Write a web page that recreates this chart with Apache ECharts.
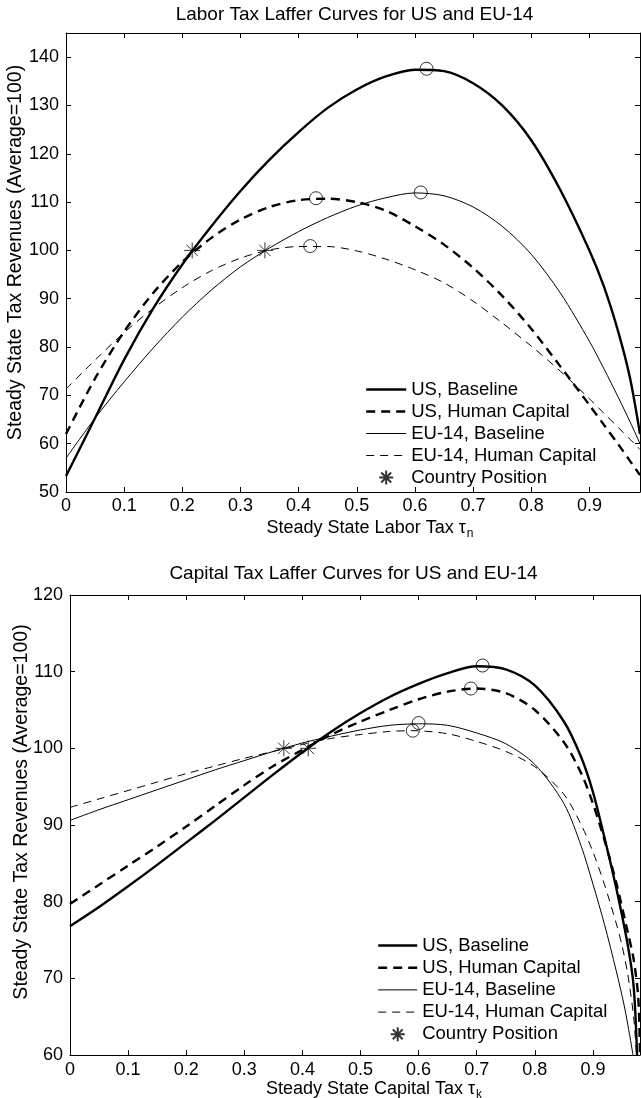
<!DOCTYPE html>
<html>
<head>
<meta charset="utf-8">
<script src="https://cdn.jsdelivr.net/npm/echarts@6/dist/echarts.min.js"></script>
<style>
html,body{margin:0;padding:0;background:#fff;}
#labor,#capital{width:641px;height:549px;}
</style>
</head>
<body>
<div id="labor"></div>
<div id="capital"></div>
<script>
// ---------- data ----------
const legendNames = ['US, Baseline', 'US, Human Capital', 'EU-14, Baseline', 'EU-14, Human Capital', 'Country Position'];

// Labor tax Laffer curves
const laborTax     = [0, 0.05, 0.1, 0.15, 0.2, 0.25, 0.3, 0.35, 0.4, 0.45, 0.5, 0.55, 0.6, 0.65, 0.7, 0.75, 0.8, 0.85, 0.9, 0.925, 0.95, 0.97, 0.987];
const laborUSBase  = [53.3, 65.3, 77.4, 88, 97.1, 105, 112.3, 118.8, 124.5, 129.5, 133.3, 136, 137.4, 137.1, 134.6, 130, 122.8, 112.5, 100, 92.5, 83, 73.5, 62];
const laborUSHuman = [62, 73.5, 83.2, 91.2, 97.6, 102.6, 106.4, 109, 110.4, 110.7, 110, 108.2, 105, 101.2, 96.4, 90.6, 83.8, 76, 68, 63.9, 59.8, 56.4, 53.5];
const laborEUBase  = [57, 65.3, 72.8, 79.8, 86.2, 91.8, 96.6, 100.5, 103.9, 106.8, 109.2, 110.9, 111.9, 111.3, 109, 105, 99.2, 91.2, 81.2, 75.5, 69.5, 64.5, 60];
const laborEUHuman = [71.3, 77.3, 83, 88, 92.3, 95.8, 98.4, 100.1, 100.8, 100.8, 99.9, 98.2, 96, 93.3, 89.5, 85, 80.2, 75, 69.3, 66.3, 63.3, 60.9, 58.8];
const laborPeakTax = [0.62, 0.43, 0.61, 0.42];
const laborPeakRev = [137.6, 110.8, 112, 100.9];
const laborPosTax  = [0.217, 0.342];
const laborPosRev  = [100, 100];

// Capital tax Laffer curves
const capUSBaseTax  = [0, 0.05, 0.1, 0.15, 0.2, 0.25, 0.3, 0.35, 0.4, 0.45, 0.5, 0.55, 0.6, 0.65, 0.7, 0.75, 0.8, 0.85, 0.88, 0.9, 0.92, 0.94, 0.96, 0.97, 0.976];
const capUSBaseRev  = [76.8, 79.3, 82, 84.8, 87.7, 90.6, 93.6, 96.6, 99.5, 102.2, 104.6, 106.7, 108.4, 109.8, 110.7, 110.3, 108.2, 103.5, 98.8, 94.3, 88.3, 81.8, 74.3, 69, 60];
const capUSHumanTax = [0, 0.05, 0.1, 0.15, 0.2, 0.25, 0.3, 0.35, 0.4, 0.45, 0.5, 0.55, 0.6, 0.65, 0.7, 0.75, 0.8, 0.85, 0.88, 0.9, 0.92, 0.94, 0.96, 0.97, 0.978, 0.981];
const capUSHumanRev = [79.7, 82.2, 84.7, 87.2, 89.8, 92.5, 95.2, 97.7, 99.8, 101.8, 103.5, 105, 106.4, 107.4, 107.8, 107.2, 105, 100.8, 96.7, 92.8, 88, 82.5, 76, 72.5, 67.5, 60];
const capEUBaseTax  = [0, 0.05, 0.1, 0.15, 0.2, 0.25, 0.3, 0.35, 0.4, 0.45, 0.5, 0.55, 0.6, 0.65, 0.7, 0.75, 0.8, 0.85, 0.88, 0.9, 0.92, 0.94, 0.955, 0.969];
const capEUBaseRev  = [90.6, 92.0, 93.3, 94.6, 95.9, 97.2, 98.4, 99.6, 100.7, 101.6, 102.4, 103, 103.2, 103, 102, 100.6, 97.9, 92.8, 87.2, 82.3, 77, 71, 66, 60];
const capEUHumanTax = [0, 0.05, 0.1, 0.15, 0.2, 0.25, 0.3, 0.35, 0.4, 0.45, 0.5, 0.55, 0.59, 0.65, 0.7, 0.75, 0.8, 0.85, 0.88, 0.9, 0.92, 0.94, 0.95, 0.96, 0.97, 0.975];
const capEUHumanRev = [92.3, 93.4, 94.5, 95.6, 96.7, 97.7, 98.7, 99.6, 100.5, 101.3, 101.8, 102.2, 102.3, 101.9, 100.9, 99.6, 97.6, 94, 90, 86.5, 82.2, 77.2, 74.3, 70.5, 65, 60];
const capPeakTax = [0.71, 0.69, 0.6, 0.59];
const capPeakRev = [110.8, 107.8, 103.3, 102.3];
const capPosTax  = [0.368, 0.41];
const capPosRev  = [100, 100];

// ---------- drawing ----------
const FONT = "'Liberation Sans', Arial, Helvetica, sans-serif";
const STAR = 'path://M10,0L10,20M0,10L20,10M2.93,2.93L17.07,17.07M2.93,17.07L17.07,2.93';
const THICK = 2.4, THIN = 1, THICK_DASH = [9, 6], THIN_DASH = [8, 6];

function zip(xs, ys) { return xs.map((x, i) => [x, ys[i]]); }
function onStep(step) {
  return function (v) {
    const k = v / step;
    return Math.abs(k - Math.round(k)) < 1e-6 ? String(+v.toFixed(2)) : '';
  };
}

function lineSeries(name, xs, ys, width, dash) {
  return {
    type: 'line', name: name, data: zip(xs, ys),
    xAxisIndex: 0, yAxisIndex: 0,
    symbol: 'none', showSymbol: false, smooth: 0.3, clip: true,
    lineStyle: { color: '#000', width: width, type: dash || 'solid' },
    itemStyle: { color: '#000' },
    emphasis: { disabled: true }, z: 3
  };
}

function buildOption(c) {
  const axisLine = { show: true, onZero: false, lineStyle: { color: '#000', width: 1 } };
  const tick = { show: true, inside: true, length: 5, lineStyle: { color: '#000', width: 1 } };
  const hideSym = { opacity: 0, borderWidth: 0 };
  return {
    animation: false,
    backgroundColor: '#fff',
    textStyle: { fontFamily: FONT, color: '#000' },
    title: {
      text: '{pad| }' + c.title, left: 'center', top: c.titleTop, padding: 0,
      textStyle: {
        fontFamily: FONT, fontSize: 19, fontWeight: 'normal', color: '#000',
        rich: { pad: { width: c.titleShift, fontSize: 19 } }
      }
    },
    grid: { left: c.left, top: c.top, width: c.width, height: c.height, containLabel: false, outerBoundsMode: 'none' },
    legend: {
      orient: 'vertical', left: c.legLeft, top: c.legTop, padding: 0,
      itemWidth: c.legItemWidth, itemHeight: 14, itemGap: c.legGap,
      selectedMode: false,
      data: [
        { name: legendNames[0], itemStyle: hideSym, lineStyle: { width: THICK, type: 'solid', color: '#000' } },
        { name: legendNames[1], itemStyle: hideSym, lineStyle: { width: THICK, type: THICK_DASH, color: '#000' } },
        { name: legendNames[2], itemStyle: hideSym, lineStyle: { width: THIN, type: 'solid', color: '#000' } },
        { name: legendNames[3], itemStyle: hideSym, lineStyle: { width: THIN, type: THIN_DASH, color: '#000' } },
        { name: legendNames[4] }
      ],
      textStyle: { fontFamily: FONT, fontSize: 18.5, color: '#000', lineHeight: 18 }
    },
    xAxis: [
      {
        type: 'value', position: 'bottom', min: 0, max: c.xMax, interval: 0.1,
        name: c.xName, nameLocation: 'middle', nameGap: c.xNameGap, nameMoveOverlap: false,
        nameTextStyle: {
          fontFamily: FONT, fontSize: 18, color: '#000', padding: [0, 0, 0, c.xNameShift],
          rich: { sub: { fontFamily: FONT, fontSize: 12, color: '#000', padding: [12, 0, 0, 1] } }
        },
        axisLine: axisLine, axisTick: tick, splitLine: { show: false },
        axisLabel: { color: '#000', fontFamily: FONT, fontSize: 18, margin: c.xLabelMargin, formatter: onStep(0.1), showMaxLabel: false }
      },
      {
        type: 'value', position: 'top', min: 0, max: c.xMax, interval: 0.1,
        axisLine: axisLine, axisTick: tick, splitLine: { show: false }, axisLabel: { show: false }
      }
    ],
    yAxis: [
      {
        type: 'value', position: 'left', min: c.yMin, max: c.yMax, interval: 10,
        name: 'Steady State Tax Revenues (Average=100)', nameLocation: 'middle', nameRotate: 90,
        nameGap: c.yNameGap, nameMoveOverlap: false,
        nameTextStyle: { fontFamily: FONT, fontSize: 19.5, color: '#000', padding: [0, 0, 0, c.yNameShift] },
        axisLine: axisLine, axisTick: tick, splitLine: { show: false },
        axisLabel: { color: '#000', fontFamily: FONT, fontSize: 18, margin: c.yLabelMargin, formatter: onStep(10), showMaxLabel: c.showYMax }
      },
      {
        type: 'value', position: 'right', min: c.yMin, max: c.yMax, interval: 10,
        axisLine: axisLine, axisTick: tick, splitLine: { show: false }, axisLabel: { show: false }
      }
    ],
    series: [
      lineSeries('US, Baseline', c.s[0][0], c.s[0][1], THICK),
      lineSeries('US, Human Capital', c.s[1][0], c.s[1][1], THICK, THICK_DASH),
      lineSeries('EU-14, Baseline', c.s[2][0], c.s[2][1], THIN),
      lineSeries('EU-14, Human Capital', c.s[3][0], c.s[3][1], THIN, THIN_DASH),
      {
        type: 'scatter', name: 'Revenue Maximum', data: zip(c.peakX, c.peakY),
        symbol: 'circle', symbolSize: 13,
        itemStyle: { color: 'rgba(0,0,0,0)', borderColor: '#000', borderWidth: 1 },
        emphasis: { disabled: true }, z: 5
      },
      {
        type: 'scatter', name: 'Country Position', data: zip(c.posX, c.posY),
        symbol: STAR, symbolSize: 16,
        itemStyle: { color: 'rgba(0,0,0,0)', borderColor: '#000', borderWidth: 1 },
        emphasis: { disabled: true }, z: 6
      }
    ]
  };
}

const laborChart = echarts.init(document.getElementById('labor'), null, { renderer: 'canvas' });
laborChart.setOption(buildOption({
  title: 'Labor Tax Laffer Curves for US and EU-14', titleTop: 5, titleShift: 68,
  left: 66, top: 33, width: 574, height: 459,
  xMax: 0.987, yMin: 50, yMax: 145, showYMax: false,
  xName: 'Steady State Labor Tax τ{sub|n}', xNameGap: 24, xNameShift: 34, xLabelMargin: 5,
  yNameGap: 40, yNameShift: 20, yLabelMargin: 7,
  legLeft: 365, legTop: 380, legGap: 3, legItemWidth: 40,
  s: [[laborTax, laborUSBase], [laborTax, laborUSHuman], [laborTax, laborEUBase], [laborTax, laborEUHuman]],
  peakX: laborPeakTax, peakY: laborPeakRev, posX: laborPosTax, posY: laborPosRev
}));

const capitalChart = echarts.init(document.getElementById('capital'), null, { renderer: 'canvas' });
capitalChart.setOption(buildOption({
  title: 'Capital Tax Laffer Curves for US and EU-14', titleTop: 15, titleShift: 66,
  left: 70, top: 46, width: 570, height: 460,
  xMax: 0.981, yMin: 60, yMax: 120, showYMax: true,
  xName: 'Steady State Capital Tax τ{sub|k}', xNameGap: 22, xNameShift: 38, xLabelMargin: 6,
  yNameGap: 38, yNameShift: 26, yLabelMargin: 7,
  legLeft: 377, legTop: 387, legGap: 3.2, legItemWidth: 39,
  s: [[capUSBaseTax, capUSBaseRev], [capUSHumanTax, capUSHumanRev], [capEUBaseTax, capEUBaseRev], [capEUHumanTax, capEUHumanRev]],
  peakX: capPeakTax, peakY: capPeakRev, posX: capPosTax, posY: capPosRev
}));
</script>
</body>
</html>
